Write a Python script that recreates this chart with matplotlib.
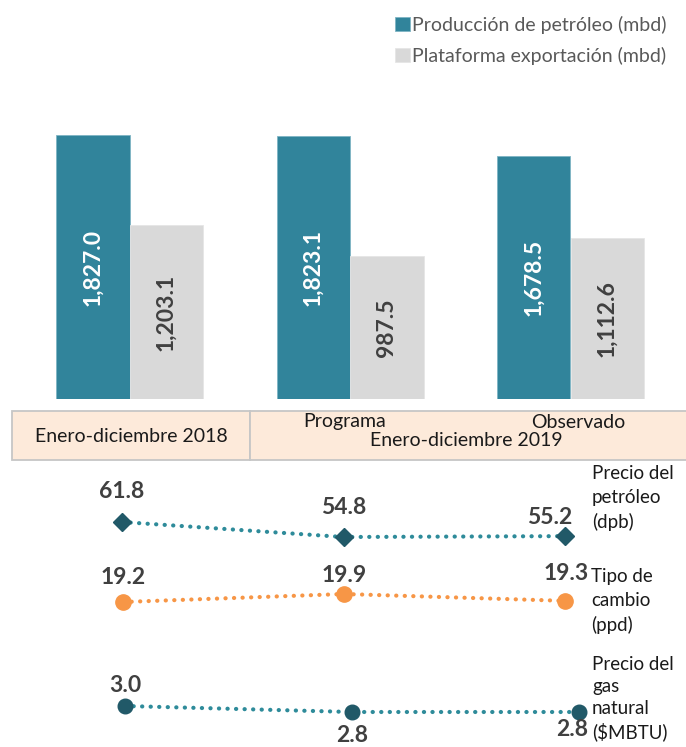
import matplotlib
matplotlib.use("Agg")
import matplotlib.pyplot as plt
from matplotlib.patches import Rectangle
import numpy as np

plt.rcParams['font.family'] = ['Lato', 'DejaVu Sans']

# ---------------- data ----------------
groups = ["Enero-diciembre 2018", "Programa", "Observado"]
produccion = [1827.0, 1823.1, 1678.5]
exportacion = [1203.1, 987.5, 1112.6]
serie_labels = ["Producción de petróleo (mbd)", "Plataforma exportación (mbd)"]

precio_petroleo = [61.8, 54.8, 55.2]
tipo_cambio = [19.2, 19.9, 19.3]
precio_gas = [3.0, 2.8, 2.8]

W, H = 686, 747
TEAL = "#31849B"
GRAY = "#D9D9D9"
DARK = "#404040"
MARK_DARK = "#215968"
DOT_TEAL = "#2E8B9A"
ORANGE = "#F79646"

fig = plt.figure(figsize=(W / 100, H / 100), dpi=100)


def px_axes(left, top, right, bottom, **kw):
    return fig.add_axes([left / W, 1 - bottom / H, (right - left) / W, (bottom - top) / H], **kw)


# overlay axes in pixel coordinates for table / side labels
ov = px_axes(0, 0, W, H, zorder=0)
ov.set_xlim(0, W)
ov.set_ylim(H, 0)
ov.axis("off")

# ---------------- bar chart ----------------
axb = px_axes(19.25, 70, 680.75, 399, zorder=2)
axb.patch.set_alpha(0)
x = np.arange(len(groups))
bw = 1 / 3
b1 = axb.bar(x - bw / 2, produccion, bw, color=TEAL, edgecolor="#7FB5C4", linewidth=0.6, label=serie_labels[0])
b2 = axb.bar(x + bw / 2, exportacion, bw, color=GRAY, edgecolor="#E6E6E6", linewidth=0.6, label=serie_labels[1])
axb.set_xlim(-0.5, 2.5)
axb.set_ylim(0, 2277)
axb.axis("off")
for rect, v in zip(b1, produccion):
    axb.text(rect.get_x() + rect.get_width() / 2, v / 2, f"{v:,.1f}", rotation=90,
             ha="center", va="center", color="white", fontsize=16.5, fontweight="bold")
for rect, v in zip(b2, exportacion):
    axb.text(rect.get_x() + rect.get_width() / 2, v / 2, f"{v:,.1f}", rotation=90,
             ha="center", va="center", color=DARK, fontsize=16.5, fontweight="bold")

leg = fig.legend(handles=[b1, b2], labels=serie_labels, loc="upper right",
                 bbox_to_anchor=(667 / W, 1 - 16 / H), frameon=False, fontsize=14,
                 handlelength=0.75, handleheight=0.75, handletextpad=0.15, labelspacing=0.65,
                 borderpad=0, borderaxespad=0)
for t in leg.get_texts():
    t.set_color("#595959")

# ---------------- table band ----------------
PEACH = "#FDEADA"
BORDER = "#C6C6C6"
ov.add_patch(Rectangle((12, 411), 238, 49, facecolor=PEACH, edgecolor=BORDER, linewidth=1.3))
ov.add_patch(Rectangle((250, 411), 440, 49, facecolor=PEACH, edgecolor=BORDER, linewidth=1.3))
TXT = "#1A1A1A"
ov.text(131, 437, groups[0], ha="center", va="center", fontsize=14, color=TXT)
ov.text(345, 422, groups[1], ha="center", va="center", fontsize=14, color=TXT)
ov.text(578, 422, groups[2], ha="center", va="center", fontsize=14, color=TXT)
ov.text(466, 440, "Enero-diciembre 2019", ha="center", va="center", fontsize=14, color=TXT)

# ---------------- line rows ----------------
dotted = (0, (0.05, 2.0))


def line_row(vals, xpx, ypx, band, color_line, color_mark, marker, ms, offsets):
    top, bottom = band
    ppu = (ypx[1] - ypx[0]) / (vals[0] - vals[1])
    vbot = vals[0] - (bottom - ypx[0]) / ppu
    vtop = vals[0] + (ypx[0] - top) / ppu
    sp = xpx[1] - xpx[0]
    ax = px_axes(xpx[0] - sp / 2, top, xpx[0] + 2.5 * sp, bottom, zorder=3)
    ax.patch.set_alpha(0)
    ax.set_xlim(-0.5, 2.5)
    ax.set_ylim(vbot, vtop)
    ax.axis("off")
    xs = np.arange(len(vals))
    ax.plot(xs, vals, linestyle=dotted, color=color_line, lw=3.0, dash_capstyle="round", zorder=2)
    ax.plot(xs, vals, linestyle="none", marker=marker, ms=ms, color=color_mark,
            markeredgecolor=color_mark, zorder=3)
    for xi, v, off in zip(xs, vals, offsets):
        ax.annotate(f"{v:.1f}", (xi, v), xytext=off, textcoords="offset pixels",
                    ha="center", va="center", fontsize=16.5, fontweight="bold", color=DARK,
                    annotation_clip=False)
    return ax


line_row(precio_petroleo, (122, 343.5), (522, 537), (462, 552), DOT_TEAL, MARK_DARK, "D", 9,
         [(0, 30), (0, 29), (-15, 19)])
line_row(tipo_cambio, (123, 344), (602, 594), (560, 645), ORANGE, ORANGE, "o", 11,
         [(0, 25), (0, 18), (1, 27)])
line_row(precio_gas, (125, 352), (706, 712), (650, 747), DOT_TEAL, MARK_DARK, "o", 10.5,
         [(0, 21), (0, -23), (-7, -18)])

# side labels
SIDE = "#1A1A1A"
ov.text(592, 498, "Precio del\npetróleo\n(dpb)", ha="left", va="center", fontsize=13.5,
        color=SIDE, linespacing=1.45)
ov.text(591, 601, "Tipo de\ncambio\n(ppd)", ha="left", va="center", fontsize=13.5,
        color=SIDE, linespacing=1.45)
ov.text(592, 699, "Precio del\ngas\nnatural\n($MBTU)", ha="left", va="center", fontsize=13.5,
        color=SIDE, linespacing=1.35)

fig.savefig("out.png", dpi=100)
